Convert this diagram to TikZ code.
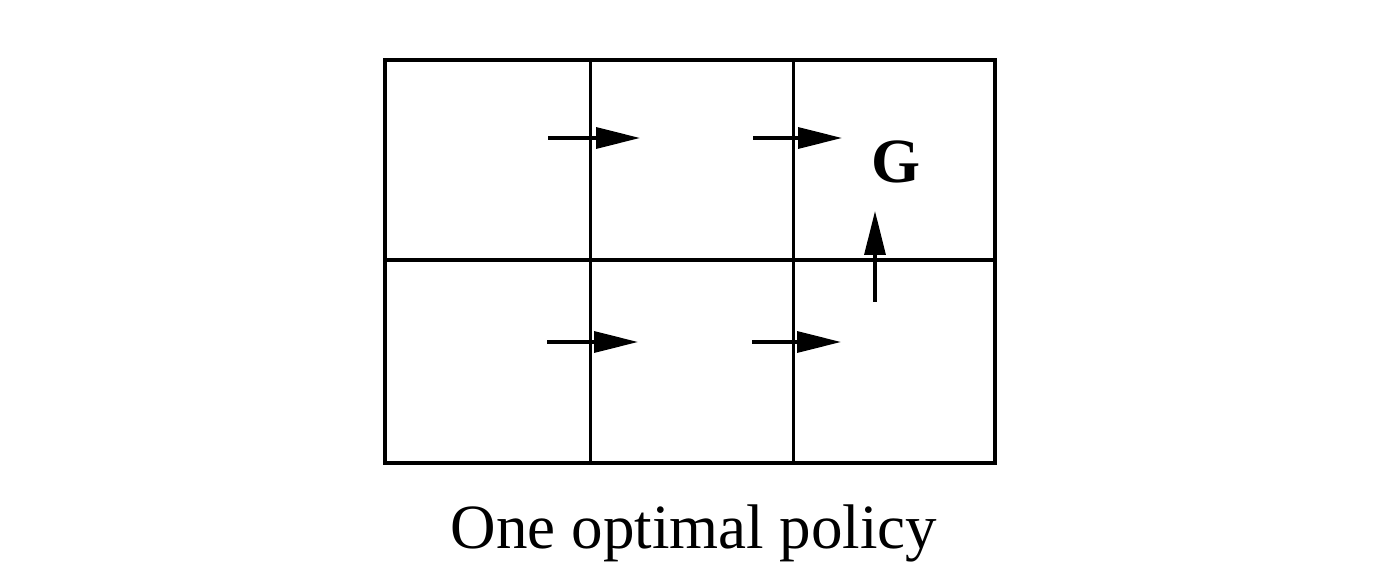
\documentclass[tikz,border=0pt]{standalone}
\usepackage{fontspec}
\setmainfont{Liberation Serif}
\usetikzlibrary{arrows.meta}
\begin{document}
\begin{tikzpicture}[x=0.5pt,y=-0.5pt,
  gridline/.style={line width=1.5pt},
  border/.style={line width=2pt, line join=miter},
  pol/.style={line width=1.6pt,-{Triangle[length=22pt,width=10.5pt]}},
  lbl/.style={font=\fontsize{31.5pt}{36pt}\selectfont, inner sep=0pt}]
\useasboundingbox (0,0) rectangle (1382,577);
% grid
\draw[border] (385,60) rectangle (995,463);
\draw[gridline] (590,60) -- (590,463);
\draw[gridline] (793,60) -- (793,463);
\draw[border] (385,260) -- (995,260);
% policy arrow end points
\coordinate (t1) at (548,138);
\coordinate (h1) at (640,138);
\coordinate (t2) at (753,138);
\coordinate (h2) at (842,138);
\coordinate (t3) at (547,342);
\coordinate (h3) at (638,342);
\coordinate (t4) at (752,342);
\coordinate (h4) at (841,342);
\coordinate (t5) at (875,302);
\coordinate (h5) at (875,211);
\draw[pol] (t1) -- (h1);
\draw[pol] (t2) -- (h2);
\draw[pol] (t3) -- (h3);
\draw[pol] (t4) -- (h4);
\draw[pol] (t5) -- (h5);
% labels
\node[lbl, font=\fontsize{31.5pt}{36pt}\selectfont\bfseries] (goal) at (896,162) {G};
\node[lbl, anchor=base] (caption) at (694,548) {One optimal policy};
\end{tikzpicture}
\end{document}
